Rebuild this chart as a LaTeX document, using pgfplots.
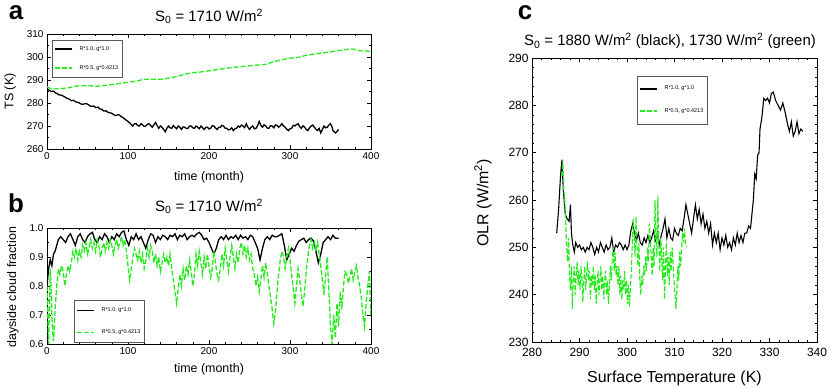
\documentclass[border=0pt]{standalone}
\usepackage{fontspec}
\setmainfont{Liberation Sans}
\usepackage{pgfplots}
\pgfplotsset{compat=1.18}
\definecolor{grn}{RGB}{40,235,30}

\pgfplotsset{
  panel/.style={
    scale only axis,
    tick align=inside,
    axis line style={line width=0.7bp},
    every tick/.style={black, line width=0.5bp},
    major tick length=4bp, minor tick length=2bp,
    /pgf/number format/assume math mode=true,
    tick label style={font=\fontsize{10}{12}\selectfont},
    label style={font=\fontsize{12.5}{14}\selectfont},
    title style={font=\fontsize{15}{17}\selectfont},
    legend cell align=left,
    legend image code/.code={\draw[##1] (0bp,0bp) -- (17bp,0bp);},
    legend style={anchor=north west, draw=black!65, line width=0.5bp,
      font=\fontsize{5.5}{6}\selectfont, inner xsep=2bp,
      /tikz/every odd column/.append style={column sep=5bp}},
  },
  blk/.style={black, line width=1.3bp},
  gr/.style={grn, line width=1.3bp, dash pattern=on 5bp off 2bp},
  legblk/.style={black, line width=1.5bp},
  leggr/.style={grn, line width=1.5bp, dash pattern=on 5bp off 2bp},
}

\begin{document}
\begin{tikzpicture}

% ---- a ----
\begin{axis}[panel, at={(47bp,-149bp)}, anchor=south west,
  width=324bp, height=115bp,
  xmin=0, xmax=400, ymin=260, ymax=310,
  xtick={0,100,...,400}, ytick={260,270,...,310},
  minor x tick num=4, minor y tick num=1,
  xlabel={time (month)}, ylabel={TS (K)},
  xlabel style={at={(axis description cs:0.5,-0.247)}, anchor=center},
  ylabel style={at={(axis description cs:-0.114,0.5)}, anchor=center},
  title={S\textsubscript{0} = 1710 W/m\textsuperscript{2}},
  title style={at={(axis description cs:0.5,1.1)}, anchor=center},
  legend style={at={(axis description cs:0.015,0.948)}, inner ysep=4bp, row sep=10bp},
]
\addlegendimage{legblk}
\addlegendentry{R*1.0, g*1.0}
\addlegendimage{leggr}
\addlegendentry{R*0.5, g*0.4213}
\addplot[blk, forget plot] coordinates {
(0,286)(3,285.5)(5,285)(8,285.2)(10,284.5)(13,284)(15,283.5)(18,283.4)(20,283)(23,282.4)(25,282)(28,281.6)(30,281)
(33,281.2)(35,280.5)(38,280.3)(40,280)(43,279.4)(45,279.5)(48,279.8)(50,279.5)(53,278.8)(55,278.5)(58,278.7)(60,278)
(63,278.2)(65,277.5)(68,277.2)(70,276.5)(73,276.6)(75,276)(78,275.7)(80,275.5)(83,274.8)(85,274.5)(88,275)(90,274.6)(92,274)
(94,273.6)(96,273)(98,272.5)(100,272)(103,271)(106,270)(108,271)(110,271)(112,270.2)(114,270)(116,271)(118,270.5)(120,269.8)(122,270)(124,270.8)(126,271)(128,270.2)(130,269.5)
(132,270.5)(134,271.5)(136,270.2)(138,269)(140,270)(142,269.5)(144,268.5)(146,267.5)(148,269)(150,270)(152,269.2)(154,269)(156,270.2)(158,269.5)(160,268.8)(162,270)(164,269.5)(166,268.5)(168,269.6)(170,269.5)
(172,268.9)(174,269)(176,270)(178,270)(180,269.2)(182,269)(184,270)(186,269.5)(188,268.8)(190,270)(192,269.3)(194,268.5)(196,269.4)(198,269.5)(200,268.7)(202,269)(204,270.1)(206,270)(208,269.1)(210,268.5)
(212,269.4)(214,269.5)(216,270.3)(218,270)(220,269)(222,269)(224,268.3)(226,268.5)(228,269.2)(230,268)(232,268.8)(234,269)(236,270)(238,269.5)(240,270.4)(242,270)(244,269.3)(246,271)(248,269.5)(250,268.5)
(252,269.5)(254,270)(256,268.8)(258,269)(260,270.2)(262,272)(264,270.3)(266,269.5)(268,270.5)(270,270)(272,269.1)(274,269)(276,270.2)(278,270)(280,269.2)(282,270.5)(284,270.2)(286,269.5)(288,270.1)(290,271)
(292,270)(294,269.5)(296,268.6)(298,268)(300,268.8)(302,269)(304,270.3)(306,270)(308,270.6)(310,271)(312,269.7)(314,269)(316,270.1)(318,269.5)(320,268.5)(322,268)(324,269.2)(326,270)(328,270.4)(330,269.5)
(332,268.6)(334,268)(336,269)(338,267)(340,268.5)(342,270)(344,269.2)(346,269.5)(348,270.4)(350,271)(352,269.5)(353,268)(355,267.4)(356,267)(358,267.6)(360,268.5)
};
\addplot[gr, forget plot] coordinates {
(0,287)(5,286.2)(15,286.2)(25,286.5)(35,287.3)(50,287.6)(60,287.3)(70,287.5)(80,288)(90,288.5)
(100,289)(110,289.5)(120,290.3)(130,290.3)(140,290.3)(150,290.8)(160,291.5)(170,292.5)(180,293.2)(190,293.5)
(200,294)(210,294.5)(220,295)(230,295.5)(240,295.8)(250,296.2)(260,296.5)(270,296.8)(280,298)(290,298.8)
(300,299.5)(310,299.8)(320,300.8)(330,301.3)(340,301.8)(350,302.2)(360,302.8)(370,303.3)(378,303.5)(385,302.8)
(392,302.6)(400,302.5)
};
\end{axis}

% ---- b ----
\begin{axis}[panel, at={(47bp,-344bp)}, anchor=south west,
  width=324bp, height=116bp,
  xmin=0, xmax=400, ymin=0.6, ymax=1.0,
  xtick={0,100,...,400}, ytick={0.6,0.7,0.8,0.9,1.0},
  yticklabels={0.6,0.7,0.8,0.9,1.0},
  minor x tick num=4, minor y tick num=1,
  xlabel={time (month)}, ylabel={dayside cloud fraction},
  xlabel style={at={(axis description cs:0.5,-0.22)}, anchor=center},
  ylabel style={at={(axis description cs:-0.105,0.49)}, anchor=center},
  title={S\textsubscript{0} = 1710 W/m\textsuperscript{2}},
  title style={at={(axis description cs:0.5,1.134)}, anchor=center},
  legend style={at={(axis description cs:0.083,0.379)}, inner ysep=5.5bp, row sep=12.5bp},
]
\addlegendimage{legblk}
\addlegendentry{R*1.0, g*1.0}
\addlegendimage{leggr}
\addlegendentry{R*0.5, g*0.4213}
\addplot[blk, forget plot] coordinates {
(0,0.80)(2,0.86)(4,0.89)(6,0.87)(8,0.91)(10,0.92)(12,0.94)(14,0.96)(17,0.97)(20,0.96)
(23,0.95)(26,0.97)(29,0.98)(32,0.96)(35,0.94)(38,0.97)(41,0.98)(44,0.96)(47,0.95)(50,0.97)
(53,0.98)(56,0.985)(59,0.96)(62,0.95)(65,0.97)(68,0.96)(71,0.98)(74,0.97)(77,0.95)(80,0.97)
(83,0.96)(86,0.98)(89,0.97)(92,0.985)(95,0.99)(98,0.96)(101,0.94)(104,0.97)(107,0.96)(110,0.98)
(113,0.96)(116,0.97)(119,0.95)(122,0.93)(125,0.96)(128,0.98)(131,0.975)(134,0.95)(137,0.97)(140,0.96)
(143,0.975)(146,0.97)(149,0.96)(152,0.975)(155,0.97)(158,0.98)(161,0.96)(164,0.975)(167,0.97)(170,0.98)
(173,0.96)(176,0.97)(179,0.975)(182,0.97)(185,0.98)(188,0.985)(191,0.975)(194,0.96)(197,0.965)(200,0.95)
(203,0.93)(206,0.91)(209,0.93)(212,0.96)(215,0.97)(218,0.96)(221,0.975)(224,0.96)(227,0.97)(230,0.965)
(233,0.975)(236,0.96)(239,0.975)(242,0.965)(245,0.97)(248,0.96)(251,0.975)(254,0.97)(257,0.95)(260,0.93)
(263,0.89)(266,0.93)(269,0.96)(272,0.97)(275,0.96)(278,0.975)(281,0.97)(284,0.97)(287,0.975)(290,0.98)
(293,0.94)(296,0.89)(299,0.91)(302,0.93)(305,0.92)(308,0.94)(311,0.955)(314,0.96)(317,0.965)(320,0.95)
(323,0.96)(326,0.965)(329,0.955)(332,0.92)(335,0.88)(338,0.91)(341,0.95)(344,0.96)(347,0.97)(350,0.96)
(353,0.975)(356,0.965)(360,0.965)
};
\addplot[gr, forget plot] coordinates {
(0,0.80)(1,0.70)(2,0.60)(3,0.72)(4,0.86)(5,0.80)(6,0.70)(7,0.64)(8,0.61)(9,0.66)
(10,0.72)(12,0.80)(14,0.86)(16,0.84)(18,0.87)(20,0.85)(22,0.80)(24,0.84)(26,0.87)(28,0.85)
(30,0.88)(32,0.92)(34,0.90)(36,0.93)(38,0.89)(40,0.92)(42,0.90)(44,0.94)(46,0.92)(48,0.95)
(50,0.91)(52,0.93)(54,0.96)(56,0.93)(58,0.95)(60,0.92)(62,0.96)(64,0.94)(66,0.90)(68,0.93)
(70,0.95)(72,0.92)(74,0.95)(76,0.93)(78,0.96)(80,0.94)(82,0.91)(84,0.94)(86,0.96)(88,0.93)
(90,0.95)(92,0.97)(94,0.94)(96,0.96)(98,0.92)(100,0.87)(102,0.82)(104,0.86)(106,0.90)(108,0.93)
(110,0.91)(112,0.89)(114,0.92)(116,0.88)(118,0.91)(120,0.86)(122,0.89)(124,0.93)(126,0.90)(128,0.94)
(130,0.92)(132,0.88)(134,0.91)(136,0.87)(138,0.90)(140,0.85)(142,0.88)(144,0.91)(146,0.88)(148,0.90)
(150,0.87)(152,0.91)(154,0.86)(156,0.82)(158,0.78)(160,0.74)(162,0.79)(164,0.84)(166,0.80)(168,0.86)
(170,0.82)(172,0.87)(174,0.84)(176,0.89)(178,0.85)(180,0.80)(182,0.84)(184,0.91)(186,0.87)(188,0.92)
(190,0.88)(192,0.84)(194,0.90)(196,0.86)(198,0.91)(200,0.87)(202,0.83)(204,0.86)(206,0.92)(208,0.88)
(210,0.84)(212,0.82)(214,0.86)(216,0.91)(218,0.87)(220,0.93)(222,0.89)(224,0.85)(226,0.90)(228,0.94)
(230,0.90)(232,0.86)(234,0.91)(236,0.88)(238,0.93)(240,0.95)(242,0.91)(244,0.94)(246,0.90)(248,0.93)
(250,0.89)(252,0.91)(254,0.86)(256,0.84)(258,0.80)(260,0.83)(262,0.78)(264,0.82)(266,0.87)(268,0.83)
(270,0.88)(272,0.84)(274,0.80)(276,0.76)(278,0.72)(280,0.67)(282,0.71)(284,0.78)(286,0.84)(288,0.89)
(290,0.92)(292,0.90)(294,0.86)(296,0.90)(298,0.93)(300,0.89)(302,0.84)(304,0.79)(306,0.74)(308,0.80)
(310,0.86)(312,0.82)(314,0.77)(316,0.73)(318,0.78)(320,0.85)(322,0.90)(324,0.94)(326,0.96)(328,0.93)
(330,0.95)(332,0.92)(334,0.95)(336,0.91)(338,0.87)(340,0.82)(342,0.77)(344,0.84)(346,0.90)(348,0.78)
(350,0.66)(352,0.60)(354,0.70)(356,0.62)(358,0.74)(360,0.66)(362,0.78)(364,0.72)(366,0.80)(368,0.85)
(370,0.84)(372,0.81)(374,0.83)(376,0.86)(378,0.82)(380,0.85)(382,0.87)(384,0.83)(386,0.80)(388,0.76)
(390,0.70)(392,0.66)(394,0.74)(396,0.80)(398,0.85)(400,0.70)
};
\end{axis}

% ---- c ----
\begin{axis}[panel, at={(532bp,-342bp)}, anchor=south west,
  width=285bp, height=284bp,
  xmin=280, xmax=340, ymin=230, ymax=290,
  xtick={280,290,...,340}, ytick={230,240,...,290},
  minor x tick num=4, minor y tick num=4,
  tick label style={font=\fontsize{12}{14}\selectfont},
  xticklabel style={yshift=-3bp},
  label style={font=\fontsize{16}{18}\selectfont},
  xlabel={Surface Temperature (K)}, ylabel={OLR (W/m\textsuperscript{2})},
  xlabel style={at={(axis description cs:0.5,-0.1285)}, anchor=center},
  ylabel style={at={(axis description cs:-0.172,0.49)}, anchor=center},
  title={S\textsubscript{0} = 1880 W/m\textsuperscript{2} (black), 1730 W/m\textsuperscript{2} (green)},
  title style={at={(axis description cs:0.484,1.039)}, anchor=center},
  legend style={at={(axis description cs:0.368,0.937)}, inner ysep=8bp, row sep=13bp},
]
\addlegendimage{legblk}
\addlegendentry{R*1.0, g*1.0}
\addlegendimage{leggr}
\addlegendentry{R*0.5, g*0.4213}
\addplot[blk, line width=1.1bp, forget plot] coordinates {
(285.2,253)(285.6,258)(286.0,265)(286.3,268.5)(286.6,262)(287.0,257)(287.4,256)(287.8,255.5)(288.1,259)(288.3,253)
(288.6,250.5)(288.9,249)(289.2,251)(289.6,250)(290.0,250.5)(290.4,249.5)(290.8,250)(291.2,249)(291.6,250)(292.0,249.5)
(292.4,251)(292.8,250)(293.2,248.5)(293.6,250)(294.0,249)(294.4,251)(294.8,250)(295.2,249)(295.6,250.5)(296.0,249.5)
(296.4,250)(296.8,252)(297.2,249)(297.6,250.5)(298.0,250)(298.4,251)(298.8,250.5)(299.2,249.5)(299.6,250.5)(300.0,249.5)
(300.4,250.5)(300.8,253.5)(301.2,255)(301.6,253)(302.0,251.5)(302.4,253)(302.8,251)(303.2,250.5)(303.6,252)(304.0,251)
(304.4,252.5)(304.8,251)(305.2,252)(305.6,253.5)(306.0,251.5)(306.4,253)(306.8,250.5)(307.2,252.5)(307.6,254)(308.0,256)
(308.4,252)(308.8,254)(309.2,252)(309.6,251.5)(310.0,254)(310.4,253)(310.8,252.5)(311.2,254)(311.6,253.5)(312.0,256)
(312.4,259)(312.8,257)(313.2,255)(313.6,253)(314.0,256)(314.4,259)(314.8,256)(315.2,258)(315.6,255)(316.0,257)
(316.4,254)(316.8,255.5)(317.2,253)(317.6,255)(318.0,250.5)(318.4,253)(318.8,251)(319.2,253)(319.6,249.5)(320.0,252)
(320.4,250.5)(320.8,252.5)(321.2,250)(321.6,251)(322.0,249.5)(322.4,252)(322.8,250.5)(323.2,253)(323.6,251)(324.0,252.5)
(324.4,251)(324.8,253)(325.2,253)(325.6,254.5)(326.0,254)(326.3,257)(326.6,260)(326.9,265.5)(327.2,264.5)(327.5,269.5)
(327.8,270)(328.0,275)(328.4,277.5)(328.8,281.5)(329.2,281)(329.6,281.5)(330.0,280.5)(330.4,282.5)(330.8,282.8)(331.3,281)
(331.8,280)(332.3,279)(332.8,280.5)(333.3,278.5)(333.8,276)(334.2,274.5)(334.6,276.5)(335.0,273.5)(335.4,274.5)(335.8,276.5)
(336.2,274)(336.6,275)(337.0,274.5)
};
\addplot[gr, line width=1.1bp, forget plot] coordinates {
(286.3,265)(286.5,268.5)(286.7,262)(286.9,260)(287.1,255)(287.3,250)(287.5,247)(287.7,252)(287.9,244)(288.1,241)
(288.3,246)(288.5,237)(288.7,243)(288.9,246)(289.1,240)(289.3,244)(289.5,247)(289.7,242)(289.9,245)(290.1,241)
(290.3,246)(290.5,244)(290.7,238.5)(290.9,243)(291.1,246)(291.3,241)(291.5,244)(291.7,247)(291.9,243)(292.1,245)
(292.3,239)(292.5,244)(292.7,242)(292.9,246)(293.1,241)(293.3,244)(293.5,238)(293.7,242)(293.9,245)(294.1,240)
(294.3,243)(294.5,246)(294.7,241)(294.9,244)(295.1,239)(295.3,243)(295.5,245)(295.7,240)(295.9,243)(296.1,238)
(296.3,242)(296.5,246)(296.7,243)(296.9,248)(297.1,250)(297.3,245)(297.5,249)(297.7,244)(297.9,246)(298.1,242)
(298.3,246)(298.5,240)(298.7,244)(298.9,239)(299.1,243)(299.3,241)(299.5,245)(299.7,240)(299.9,243)(300.1,238)
(300.3,242)(300.5,237.5)(300.7,241)(300.9,245)(301.1,250)(301.3,256)(301.5,252)(301.7,248)(301.9,256.5)(302.1,250)
(302.3,246)(302.5,251)(302.7,243)(302.9,240)(303.1,244)(303.3,242)(303.5,246)(303.7,244)(303.9,248)(304.1,245)
(304.3,250)(304.5,247)(304.7,255)(304.9,252)(305.1,248)(305.3,244)(305.5,250)(305.7,246)(305.9,260)(306.1,252)
(306.3,248)(306.5,261)(306.7,250)(306.9,245)(307.1,252)(307.3,248)(307.5,243)(307.7,250)(307.9,239)(308.1,246)
(308.3,251)(308.5,244)(308.7,248)(308.9,242)(309.1,249)(309.3,245)(309.5,250)(309.7,247)(309.9,243)(310.1,240)
(310.3,237)(310.5,241)(310.7,246)(310.9,243)(311.1,249)(311.3,246)(311.5,250)(311.7,253)(311.9,251)(312.1,254)
(312.3,251)(312.6,250)
};
\end{axis}

\node[font=\fontsize{26}{28}\selectfont\bfseries] at (16bp,-13bp) {a};
\node[font=\fontsize{26}{28}\selectfont\bfseries] at (16bp,-203bp) {b};
\node[font=\fontsize{26}{28}\selectfont\bfseries] at (525bp,-13bp) {c};

\pgfresetboundingbox
\path (0,0) rectangle (830bp,-388bp);
\end{tikzpicture}
\end{document}
